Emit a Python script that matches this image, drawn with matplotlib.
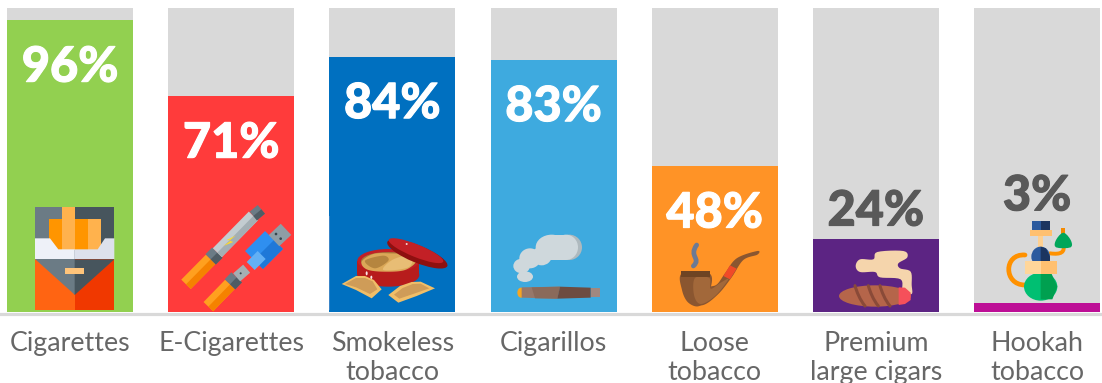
import matplotlib
matplotlib.use("Agg")
import matplotlib.pyplot as plt
import matplotlib.patheffects as pe
from matplotlib.patches import Ellipse, Polygon, PathPatch
from matplotlib.path import Path
import numpy as np

products = ["Cigarettes", "E-Cigarettes", "Smokeless\ntobacco", "Cigarillos",
            "Loose\ntobacco", "Premium\nlarge cigars", "Hookah\ntobacco"]
percent = [96, 71, 84, 83, 48, 24, 3]
bar_colors = ["#92d050", "#ff3b3b", "#0070c0", "#3eaadf", "#ff9326", "#5c2483", "#bd0f96"]

W, H = 1102, 383
STEP = 161.17
plt.rcParams["font.family"] = ["Lato", "DejaVu Sans"]
fig = plt.figure(figsize=(W / 100, H / 100), dpi=100)

# main axes spans the 0-100 scale, one unit on x is one bar spacing
ax = fig.add_axes([0, (H - 312) / H, 1, 304 / H])
x = np.arange(len(products))
ax.bar(x, [100] * len(x), width=126 / STEP, color="#d9d9d9", zorder=1)
ax.bar(x, percent, width=126 / STEP, color=bar_colors, zorder=2)
ax.set_xlim(-70 / STEP, (W - 70) / STEP)
ax.set_ylim(0, 100)
ax.set_yticks([])
ax.set_xticks(x)
ax.set_xticklabels(products, fontsize=19.3, color="#676767", linespacing=1.2)
ax.tick_params(axis="x", length=0, pad=14)
for s in ax.spines.values():
    s.set_visible(False)
ax.axhline(-0.5, color="#d9d9d9", lw=2.3, clip_on=False, zorder=3)

# big percent figures, inside tall bars and above short ones
for i, v in enumerate(percent):
    off = -47
    col = "white"
    if v == 24:
        off, col = 28, "#595959"
    elif v == 3:
        off, col = 107, "#595959"
    t = ax.annotate(f"{v}%", (i, v), xytext=(0, off * 0.72), textcoords="offset points",
                    ha="center", va="center", fontsize=35, fontweight="black",
                    color=col, zorder=6)
    t.set_path_effects([pe.withStroke(linewidth=0.8, foreground=col)])

# overlay in pixel units for the little product icons
ic = fig.add_axes([0, 0, 1, 1], facecolor="none")
ic.set_xlim(0, W)
ic.set_ylim(H, 0)
ic.axis("off")


def mapper(ox, oy):
    # icon shapes are sketched on a 3x grid with its own origin
    return lambda pts: [(ox + a / 3, oy + b / 3) for a, b in pts]


def poly(m, pts, color):
    ic.add_patch(Polygon(m(pts), closed=True, fc=color, ec="none"))


def blob(m, pts, color, n=12):
    # closed Catmull-Rom curve through the points, for the rounded shapes
    p = np.array(pts, float)
    out = []
    for k in range(len(p)):
        p0, p1, p2, p3 = p[k - 1], p[k], p[(k + 1) % len(p)], p[(k + 2) % len(p)]
        for t in np.linspace(0, 1, n, endpoint=False):
            out.append(0.5 * (2 * p1 + (p2 - p0) * t + (2 * p0 - 5 * p1 + 4 * p2 - p3) * t ** 2
                              + (3 * p1 - p0 - 3 * p2 + p3) * t ** 3))
    poly(m, out, color)


def oval(m, cx, cy, rx, ry, color, angle=0):
    c = m([(cx, cy)])[0]
    ic.add_patch(Ellipse(c, 2 * rx / 3, 2 * ry / 3, angle=angle, fc=color, ec="none"))


def slab(m, x0, y0, x1, y1, w, color, shade=None):
    # rotated rectangle between two end points, optional darker lower half
    d = np.array([x1 - x0, y1 - y0], float)
    n = np.array([-d[1], d[0]]) / np.hypot(*d) * w / 2
    a, b = np.array([x0, y0]), np.array([x1, y1])
    poly(m, [a + n, b + n, b - n, a - n], color)
    if shade:
        poly(m, [a, b, b + n, a + n], shade)


def curve(m, pts, color, lw):
    p = m(pts)
    codes = [Path.MOVETO] + [Path.CURVE4] * (len(p) - 1)
    ic.add_patch(PathPatch(Path(p, codes), fc="none", ec=color, lw=lw, capstyle="round"))


def box(m, x0, y0, x1, y1, color):
    poly(m, [(x0, y0), (x1, y0), (x1, y1), (x0, y1)], color)


# cigarette pack
m = mapper(0, 190)
box(m, 105, 52, 224, 210, "#6b7b85")
box(m, 224, 52, 343, 210, "#47555d")
box(m, 147, 88, 185, 180, "#ff9500")
box(m, 185, 52, 224, 180, "#ffb24d")
box(m, 224, 88, 263, 180, "#ff9500")
box(m, 263, 88, 302, 180, "#ffb24d")
poly(m, [(105, 145), (150, 145), (175, 178), (224, 178), (224, 208), (105, 208)], "#eef1f8")
poly(m, [(224, 178), (293, 178), (315, 145), (343, 145), (343, 208), (224, 208)], "#dde1ec")
box(m, 105, 208, 224, 360, "#ff6412")
box(m, 224, 208, 343, 360, "#f03800")
poly(m, [(105, 208), (224, 208), (224, 315)], "#6b7b85")
poly(m, [(224, 208), (343, 208), (224, 315)], "#47555d")
box(m, 196, 233, 252, 252, "#ffc47a")

# e-cigarette and charger
slab(m, 558, 283, 632, 208, 40, "#ffa01f", "#f58200")
slab(m, 632, 208, 652, 188, 44, "#6b7b85", "#4f5c64")
slab(m, 652, 188, 760, 78, 38, "#c3ccd0", "#a4afb4")
slab(m, 760, 78, 784, 58, 34, "#6b7b85", "#4f5c64")
poly(m, [(708, 136), (680, 150), (692, 152), (670, 168), (700, 156), (688, 152)], "#ffd92e")
slab(m, 762, 210, 822, 150, 76, "#2f8ff0", "#1f78d8")
slab(m, 752, 228, 785, 195, 34, "#63b0f5")
slab(m, 822, 152, 858, 118, 46, "#8e9ea6")
oval(m, 828, 132, 4, 4, "#37474f")
oval(m, 842, 146, 4, 4, "#37474f")
slab(m, 625, 350, 690, 283, 40, "#ffa01f", "#f58200")
slab(m, 690, 283, 710, 262, 44, "#6b7b85", "#4f5c64")
slab(m, 710, 262, 740, 236, 32, "#a4afb4")
oval(m, 722, 250, 3, 3, "#37474f")

# snus tin with lid and pouches
oval(m, 1165, 255, 93, 35, "#b71c1c")
box(m, 1072, 212, 1258, 255, "#b71c1c")
oval(m, 1165, 212, 93, 35, "#c22026")
oval(m, 1165, 214, 82, 28, "#a8773a")
blob(m, [(1085, 215), (1120, 192), (1170, 190), (1235, 195), (1250, 212), (1215, 240), (1150, 245), (1100, 238)], "#dba858")
blob(m, [(1150, 240), (1180, 208), (1235, 197), (1225, 232)], "#e8bd75")
blob(m, [(1095, 212), (1150, 197), (1165, 212), (1125, 235)], "#b5853f")
oval(m, 1252, 192, 97, 26, "#8e1010", angle=22)
oval(m, 1248, 182, 88, 19, "#c22026", angle=22)
oval(m, 1220, 162, 3, 3, "#f4d0d0")
oval(m, 1100, 250, 3, 6, "#f8e8e8")
oval(m, 1114, 262, 3, 5, "#f8e8e8")
poly(m, [(1025, 282), (1068, 258), (1095, 258), (1122, 270), (1145, 298), (1115, 325), (1068, 300)], "#f0be68")
poly(m, [(1035, 282), (1068, 264), (1095, 264), (1118, 274), (1132, 298), (1110, 312), (1068, 292)], "#cf9c58")
poly(m, [(1165, 315), (1200, 288), (1235, 276), (1262, 275), (1305, 295), (1250, 318), (1195, 338)], "#f0be68")
poly(m, [(1182, 314), (1208, 294), (1238, 282), (1262, 281), (1288, 295), (1245, 310), (1198, 326)], "#cf9c58")

# small lighter sliver down the left side of the tin's square backdrop
ic.add_patch(Polygon([(329, 216), (330, 216), (330, 310), (329, 310)], fc="#3a85c8", ec="none"))

# cigarillo with smoke
m = mapper(480, 190)
oval(m, 268, 172, 38, 38, "#aeb9be")
oval(m, 215, 172, 48, 38, "#cfd8dc")
oval(m, 258, 172, 36, 38, "#cfd8dc")
box(m, 210, 134, 258, 210, "#cfd8dc")
oval(m, 150, 205, 32, 30, "#cfd8dc")
oval(m, 185, 198, 30, 28, "#cfd8dc")
oval(m, 125, 228, 25, 22, "#cfd8dc")
oval(m, 135, 260, 24, 16, "#cfd8dc")
oval(m, 123, 308, 11, 15, "#f5a623")
poly(m, [(125, 292), (240, 290), (232, 326), (125, 323)], "#97786a")
poly(m, [(155, 292), (240, 290), (232, 326), (165, 325)], "#8a6a5b")
poly(m, [(240, 290), (332, 293), (332, 323), (232, 326)], "#6d4c41")
box(m, 332, 295, 360, 322, "#a1887f")

# pipe
curve(m, [(650, 165), (625, 200), (665, 205), (640, 228)], "#6c7a94", 3.4)
blob(m, [(690, 290), (712, 282), (735, 250), (770, 205), (832, 183), (832, 194),
         (790, 210), (755, 262), (715, 312), (670, 345), (630, 338), (640, 300)], "#8a5630")
blob(m, [(606, 250), (688, 250), (690, 300), (660, 347), (625, 338), (606, 300)], "#8a5630")
blob(m, [(645, 264), (688, 264), (692, 296), (722, 278), (745, 268), (705, 318),
         (662, 342), (642, 315)], "#a2683a")
box(m, 602, 243, 690, 262, "#6e4423")
poly(m, [(730, 258), (750, 226), (770, 236), (750, 268)], "#f04a28")

# premium cigar with smoke
m = mapper(790, 170)
blob(m, [(250, 268), (262, 246), (340, 243), (352, 262), (325, 280), (330, 295),
         (362, 305), (365, 345), (365, 372), (338, 365), (332, 328), (270, 322),
         (255, 306), (210, 306), (197, 288), (210, 268)], "#f5d5ac", n=6)
oval(m, 255, 378, 108, 32, "#b5654a")
poly(m, [(326, 352), (345, 353), (362, 368), (362, 390), (345, 402), (326, 405)], "#f5505a")
for dx in [195, 235, 270]:
    curve(m, [(dx, 347), (dx + 5, 365), (dx + 15, 390), (dx + 30, 408)], "#8a4a38", 2.2)

# hookah
box(m, 725, 152, 753, 180, "#2b5a9e")
box(m, 753, 152, 780, 180, "#1c3560")
box(m, 720, 181, 785, 197, "#ffc070")
box(m, 745, 197, 760, 232, "#ffd090")
curve(m, [(705, 255), (640, 250), (640, 345), (705, 345)], "#ff9100", 3.4)
curve(m, [(780, 250), (815, 255), (825, 245), (820, 225)], "#ff9100", 2.8)
box(m, 814, 175, 826, 192, "#f58a00")
blob(m, [(820, 188), (842, 210), (842, 232), (798, 232), (798, 210)], "#00a65a", n=4)
oval(m, 752, 260, 28, 30, "#2b5a9e")
poly(m, [(752, 230), (768, 235), (780, 260), (780, 275), (752, 275)], "#1c3560")
oval(m, 752, 350, 50, 42, "#00bf72")
poly(m, [(752, 310), (785, 312), (802, 350), (787, 388), (752, 388)], "#00a050")
box(m, 705, 272, 752, 312, "#ffd69a")
box(m, 752, 272, 800, 312, "#ffc070")

fig.savefig("out.png", dpi=100)
